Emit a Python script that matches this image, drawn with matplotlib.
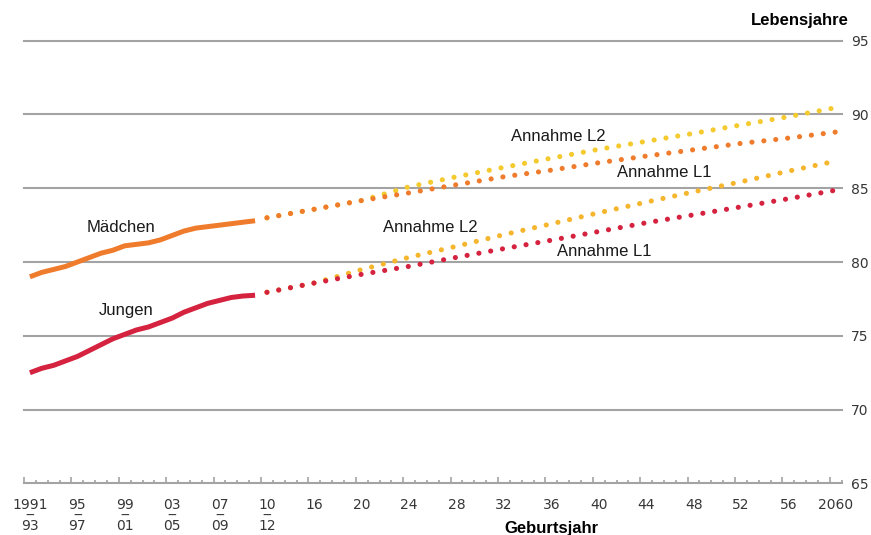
import numpy as np
import matplotlib.pyplot as plt
from matplotlib.transforms import ScaledTranslation

plt.rc('font', family='DejaVu Sans', size=10)

# Periodensterbetafeln 1991/93 ... 2010/12 (Lebenserwartung bei Geburt)
hist_years = np.arange(1992, 2012)
girls_hist = [79.0, 79.3, 79.5, 79.7, 80.0, 80.3, 80.6, 80.8, 81.1, 81.2,
              81.3, 81.5, 81.8, 82.1, 82.3, 82.4, 82.5, 82.6, 82.7, 82.8]
boys_hist = [72.5, 72.8, 73.0, 73.3, 73.6, 74.0, 74.4, 74.8, 75.1, 75.4,
             75.6, 75.9, 76.2, 76.6, 76.9, 77.2, 77.4, 77.6, 77.7, 77.75]

proj_years = np.arange(2012, 2061, 4)
girls_l1 = [83.0, 83.58, 84.17, 84.69, 85.24, 85.78, 86.23, 86.73, 87.18, 87.61, 88.04, 88.40, 88.81]
girls_l2 = [83.0, 83.58, 84.17, 85.10, 85.78, 86.42, 87.04, 87.64, 88.18, 88.72, 89.29, 89.85, 90.46]
boys_l1 = [77.95, 78.58, 79.17, 79.71, 80.32, 80.91, 81.48, 82.07, 82.66, 83.20, 83.74, 84.29, 84.87]
boys_l2 = [77.95, 78.58, 79.49, 80.32, 81.07, 81.86, 82.59, 83.34, 84.06, 84.76, 85.44, 86.16, 86.84]

tick_pos = np.arange(1992, 2061, 4)
tick_labels = ['1991\n‒\n93', '95\n‒\n97', '99\n‒\n01', '03\n‒\n05', '07\n‒\n09', '10\n‒\n12',
               '16', '20', '24', '28', '32', '36', '40', '44', '48', '52', '56', '2060']

c_orange = '#ef7b2c'
c_red = '#d4223f'
c_yel_f = '#f4ca2e'
c_yel_m = '#f5b52c'
c_grid = '#a3a3a3'
c_txt = '#363636'

fig = plt.figure(figsize=(8.71, 5.35), dpi=100)
ax = fig.add_axes([0.02755, 0.09645, 0.93881, 0.82748])

for v in range(70, 96, 5):
    ax.axhline(v, color=c_grid, lw=1.5, clip_on=False, zorder=1)

dot = dict(lw=3.7, ls=(0, (0.01, 2.32)), dash_capstyle='round', zorder=3)
ax.plot(proj_years + 0.5, girls_l2, color=c_yel_f, **dot)
ax.plot(proj_years + 0.5, girls_l1, color=c_orange, **dot)
ax.plot(proj_years + 0.5, boys_l2, color=c_yel_m, **dot)
ax.plot(proj_years + 0.5, boys_l1, color=c_red, **dot)

ax.plot(hist_years + 0.5, girls_hist, color=c_orange, lw=3.6, solid_capstyle='butt', zorder=4)
ax.plot(hist_years + 0.5, boys_hist, color=c_red, lw=3.6, solid_capstyle='butt', zorder=4)

txt = dict(family='Liberation Sans', fontsize=12, color='#1a1a1a', va='baseline')
ax.text(1997.3, 82.05, 'Mädchen', **txt)
ax.text(1998.3, 76.43, 'Jungen', **txt)
ax.text(2033.1, 88.2, 'Annahme L2', **txt)
ax.text(2042.0, 85.73, 'Annahme L1', **txt)
ax.text(2022.3, 82.02, 'Annahme L2', **txt)
ax.text(2037.0, 80.39, 'Annahme L1', **txt)

ax.set_xlim(1992, 2061)
ax.set_ylim(65, 95)

for s in ['left', 'top', 'right']:
    ax.spines[s].set_visible(False)
ax.spines['bottom'].set_color(c_grid)
ax.spines['bottom'].set_linewidth(1.5)

ax.set_xticks(tick_pos)
ax.set_xticks(np.arange(1992, 2062), minor=True)
ax.set_xticklabels(tick_labels)
ax.tick_params(axis='x', which='major', direction='in', length=4.5, width=1.2,
               color=c_grid, pad=10.5, labelsize=10, labelcolor=c_txt)
ax.tick_params(axis='x', which='minor', direction='in', length=2.5, width=1.2, color=c_grid)
shift = ScaledTranslation(0.06, 0, fig.dpi_scale_trans)
for lbl in ax.get_xticklabels():
    lbl.set_linespacing(0.69)
    lbl.set_transform(lbl.get_transform() + shift)

ax.yaxis.tick_right()
ax.set_yticks(range(65, 96, 5))
ax.tick_params(axis='y', length=0, pad=6.5, labelsize=10, labelcolor=c_txt)

fig.text(849 / 871, 1 - 25 / 535, 'Lebensjahre', family='Liberation Sans', fontsize=12,
         fontweight='bold', ha='right', va='baseline')
fig.text(551 / 871, 1 - 533 / 535, 'Geburtsjahr', family='Liberation Sans', fontsize=12,
         fontweight='bold', ha='center', va='baseline')

fig.savefig('out.png', dpi=100)
